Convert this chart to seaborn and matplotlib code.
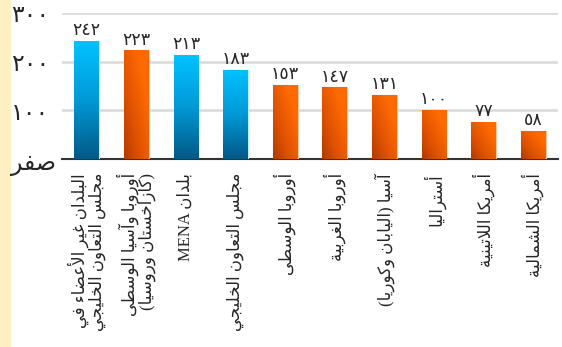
import matplotlib
matplotlib.use("Agg")
import matplotlib.pyplot as plt
from matplotlib.colors import LinearSegmentedColormap
import matplotlib.transforms as mtrans
import numpy as np
import pandas as pd
import seaborn as sns

# data
regions = ["البلدان غير الأعضاء في\nمجلس التعاون الخليجي",
           "أوروبا وآسيا الوسطى\n(كازاخستان وروسيا)",
           "بلدان MENA",
           "مجلس التعاون الخليجي",
           "أوروبا الوسطى",
           "أوروبا الغربية",
           "آسيا (اليابان وكوريا)",
           "أستراليا",
           "أمريكا اللاتينية",
           "أمريكا الشمالية"]
values = [242, 223, 213, 183, 153, 147, 131, 100, 77, 58]
value_labels = ["٢٤٢", "٢٢٣", "٢١٣", "١٨٣", "١٥٣", "١٤٧", "١٣١", "١٠٠", "٧٧", "٥٨"]
groups = ["b", "o", "b", "b", "o", "o", "o", "o", "o", "o"]
yticks = [0, 100, 200, 300]
ytick_labels = ["صفر", "١٠٠", "٢٠٠", "٣٠٠"]

# --- tiny arabic shaper (matplotlib has no shaping / bidi) ---
# letter -> (isolated form, number of forms: 1 none, 2 right-joining, 4 dual)
FORMS = {
    'ء': (0xFE80, 1), 'آ': (0xFE81, 2), 'أ': (0xFE83, 2), 'ؤ': (0xFE85, 2),
    'إ': (0xFE87, 2), 'ئ': (0xFE89, 4), 'ا': (0xFE8D, 2), 'ب': (0xFE8F, 4),
    'ة': (0xFE93, 2), 'ت': (0xFE95, 4), 'ث': (0xFE99, 4), 'ج': (0xFE9D, 4),
    'ح': (0xFEA1, 4), 'خ': (0xFEA5, 4), 'د': (0xFEA9, 2), 'ذ': (0xFEAB, 2),
    'ر': (0xFEAD, 2), 'ز': (0xFEAF, 2), 'س': (0xFEB1, 4), 'ش': (0xFEB5, 4),
    'ص': (0xFEB9, 4), 'ض': (0xFEBD, 4), 'ط': (0xFEC1, 4), 'ظ': (0xFEC5, 4),
    'ع': (0xFEC9, 4), 'غ': (0xFECD, 4), 'ف': (0xFED1, 4), 'ق': (0xFED5, 4),
    'ك': (0xFED9, 4), 'ل': (0xFEDD, 4), 'م': (0xFEE1, 4), 'ن': (0xFEE5, 4),
    'ه': (0xFEE9, 4), 'و': (0xFEED, 2), 'ى': (0xFEEF, 2), 'ي': (0xFEF1, 4),
}
LAM_ALEF = {'ا': 0xFEFB, 'أ': 0xFEF7, 'آ': 0xFEF5, 'إ': 0xFEF9}


def shape_word(s):
    # merge lam + alef
    chars = []
    i = 0
    while i < len(s):
        if s[i] == 'ل' and i + 1 < len(s) and s[i + 1] in LAM_ALEF:
            chars.append(('LA', s[i + 1]))
            i += 2
        else:
            chars.append((s[i], None))
            i += 1

    def joins_next(c):  # can connect to following letter
        if c[0] == 'LA':
            return False
        return c[0] in FORMS and FORMS[c[0]][1] == 4

    def joins_prev(c):
        if c[0] == 'LA':
            return True
        return c[0] in FORMS and FORMS[c[0]][1] >= 2

    out = []
    for k, c in enumerate(chars):
        prev_j = k > 0 and joins_next(chars[k - 1]) and joins_prev(c)
        next_j = k + 1 < len(chars) and joins_next(c) and joins_prev(chars[k + 1])
        if c[0] == 'LA':
            base = LAM_ALEF[c[1]]
            out.append(chr(base + 1 if prev_j else base))
            continue
        if c[0] not in FORMS:
            out.append(c[0])
            continue
        base, n = FORMS[c[0]]
        if n == 1:
            out.append(chr(base))
        elif n == 2:
            out.append(chr(base + 1 if prev_j else base))
        else:
            if prev_j and next_j:
                out.append(chr(base + 3))
            elif prev_j:
                out.append(chr(base + 1))
            elif next_j:
                out.append(chr(base + 2))
            else:
                out.append(chr(base))
    return ''.join(out)


def rtl(text):
    lines = []
    for line in text.split('\n'):
        # split in runs: latin/digits stay LTR, everything else RTL
        runs = []
        for ch in line:
            ltr = ch.isascii() and ch.isalnum() or ('\u0660' <= ch <= '\u0669')
            if runs and runs[-1][0] == ltr:
                runs[-1][1] += ch
            else:
                runs.append([ltr, ch])
        vis = []
        for ltr, chunk in reversed(runs):
            if ltr:
                vis.append(chunk)
            else:
                shaped = shape_word(chunk)[::-1]
                shaped = shaped.translate(str.maketrans('()', ')('))
                vis.append(shaped)
        lines.append(''.join(vis))
    return '\n'.join(lines)


df = pd.DataFrame({"region": regions, "value": values, "group": groups})

sns.set_style("white")
plt.rcParams['font.family'] = ['Liberation Serif', 'DejaVu Sans']

fig = plt.figure(figsize=(5.62, 3.47), dpi=100)
fig.patches.append(plt.Rectangle((0, 0), 10 / 562, 1, transform=fig.transFigure,
                                 color="#FFEFC2", zorder=-1))
ax = fig.add_axes([62 / 562, 1 - 159 / 347, 496 / 562, 146 / 347])

sns.barplot(data=df, x="region", y="value", color="white", width=0.5,
            linewidth=0.8, edgecolor="#FFD9C0", ax=ax, zorder=3)

blue = LinearSegmentedColormap.from_list("bl", ["#005A86", "#0099D6", "#00C2FF"])
orange = LinearSegmentedColormap.from_list("or", ["#A83400", "#E05200", "#FF6A00"])
yy, xx = np.mgrid[0:1:100j, 0:1:30j]
for k, p in enumerate(ax.patches):
    x0, y0 = p.get_x(), p.get_y()
    w, h = p.get_width(), p.get_height()
    if df["group"][k] == "b":
        grad = yy
        cm = blue
        p.set_edgecolor("#BFEFFF")
    else:
        grad = np.clip(0.55 * yy + 0.6 * xx + 0.1, 0, 1)
        cm = orange
        p.set_edgecolor("#FFC8A0")
    im = ax.imshow(grad, cmap=cm, origin="lower", aspect="auto",
                   extent=[x0, x0 + w, y0, y0 + h], zorder=3.5, vmin=0, vmax=1)
    im.set_clip_path(p)
    ax.text(x0 + w / 2, h + 4, value_labels[k],
            ha="center", va="bottom", fontsize=12.5, family=['DejaVu Sans'])

ax.set_xlim(-0.5, len(values) - 0.5)
ax.set_ylim(0, 300)
ax.set_yticks(yticks)
ax.set_yticklabels([rtl(t) for t in ytick_labels], fontsize=17,
                   family=['DejaVu Sans'])
ax.yaxis.grid(True, color="#D9D9D9", linewidth=1.8, zorder=0)
ax.set_axisbelow(True)
ax.tick_params(axis="y", length=0, pad=9)
zero = ax.get_yticklabels()[0]
zero.set_fontsize(17)
zero.set_transform(zero.get_transform() +
                   mtrans.ScaledTranslation(7 / 100, -2 / 100, fig.dpi_scale_trans))

ax.set_xticks(range(len(regions)))
ax.set_xticklabels([rtl(r) for r in regions], rotation=90, fontsize=12,
                   multialignment="right", va="top", ha="center",
                   linespacing=1.0,
                   family=['Liberation Serif', 'DejaVu Sans'])
ax.tick_params(axis="x", length=0, pad=10)
ax.set_xticks(np.arange(-0.5, len(values)), minor=True)
ax.tick_params(axis="x", which="minor", direction="in", length=4, width=1,
               color="#333333")

for s in ["left", "right", "top"]:
    ax.spines[s].set_visible(False)
ax.spines["bottom"].set_color("#333333")
ax.spines["bottom"].set_linewidth(1.5)
ax.set_xlabel("")
ax.set_ylabel("")

fig.savefig("out.png", dpi=100)
